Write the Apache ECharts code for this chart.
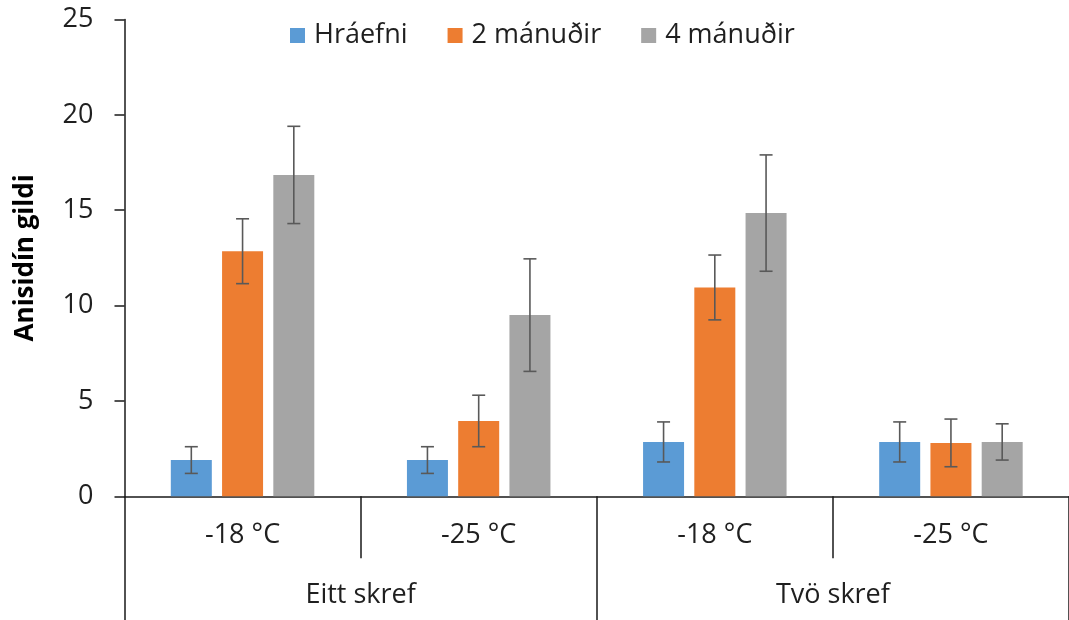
<!DOCTYPE html>
<html><head><meta charset="utf-8">
<script src="https://cdn.jsdelivr.net/npm/echarts@6/dist/echarts.min.js"></script>
<style>html,body{margin:0;padding:0;background:#fff}#c{width:1069px;height:620px}</style>
</head><body><div id="c"></div>
<script>
// ---- data ----
const categories = ['-18 °C', '-25 °C', '-18 °C', '-25 °C'];
const groups = ['Eitt skref', 'Tvö skref'];
const seriesNames = ['Hráefni', '2 mánuðir', '4 mánuðir'];
const hraefni = [1.9, 1.9, 2.85, 2.85];
const hraefniErr = [0.7, 0.7, 1.05, 1.05];
const man2 = [12.85, 3.95, 10.95, 2.8];
const man2Err = [1.7, 1.35, 1.7, 1.25];
const man4 = [16.85, 9.5, 14.85, 2.85];
const man4Err = [2.55, 2.95, 3.05, 0.95];
const yMin = 0, yMax = 25, yStep = 5;

// ---- styles ----
const colors = ['#5B9BD5', '#ED7D31', '#A5A5A5'];
const BAR_W = 41;
const GAP = 0.25;
const FONT = '"Open Sans", sans-serif';
const FS = 27;
const TXT = '#1f1f1f';
const AX = '#1a1a1a';

const values = [hraefni, man2, man4];
const errs = [hraefniErr, man2Err, man4Err];

function errRender(k) {
  return function (params, api) {
    const x = api.value(0), v = api.value(1), e = api.value(2);
    const hi = api.coord([x, v + e]);
    const lo = api.coord([x, v - e]);
    const cx = hi[0] + (k - 1) * BAR_W * (1 + GAP);
    const cap = 6.5;
    const st = { stroke: '#595959', lineWidth: 1.6 };
    return {
      type: 'group',
      children: [
        { type: 'line', shape: { x1: cx, y1: hi[1], x2: cx, y2: lo[1] }, style: st },
        { type: 'line', shape: { x1: cx - cap, y1: hi[1], x2: cx + cap, y2: hi[1] }, style: st },
        { type: 'line', shape: { x1: cx - cap, y1: lo[1], x2: cx + cap, y2: lo[1] }, style: st }
      ]
    };
  };
}

const series = [];
seriesNames.forEach((n, k) => {
  series.push({
    name: n, type: 'bar', xAxisIndex: 0, barWidth: BAR_W, barGap: (GAP * 100) + '%',
    itemStyle: { color: colors[k] }, data: values[k], z: 2
  });
});
seriesNames.forEach((n, k) => {
  series.push({
    name: n + ' err', type: 'custom', xAxisIndex: 0, z: 5,
    renderItem: errRender(k), encode: { x: 0, y: 1 },
    data: values[k].map((v, i) => [i, v, errs[k][i]])
  });
});

const chart = echarts.init(document.getElementById('c'), null, { renderer: 'canvas' });
chart.setOption({
  animation: false,
  textStyle: { fontFamily: FONT },
  grid: { left: 124.5, right: 0, top: 19.5, bottom: 123.7, containLabel: false },
  legend: {
    data: seriesNames, left: 290, top: 22, padding: 0, itemWidth: 15, itemHeight: 15, itemGap: 40,
    icon: 'rect', textStyle: { fontSize: FS, color: TXT, fontFamily: FONT, padding: [0, 0, 0, 4] }
  },
  xAxis: [
    {
      type: 'category', data: categories, position: 'bottom',
      axisLine: { lineStyle: { color: AX, width: 1.5 } },
      axisTick: { show: true, interval: 0, length: 62, lineStyle: { color: AX, width: 1.5 } },
      axisLabel: { interval: 0, fontSize: FS, color: TXT, margin: 26, fontFamily: FONT },
      splitLine: { show: false }
    },
    {
      type: 'category', data: groups, position: 'bottom',
      axisLine: { show: false },
      axisTick: { show: true, interval: 0, length: 124, lineStyle: { color: AX, width: 1.5 } },
      axisLabel: { interval: 0, fontSize: FS, color: TXT, margin: 86, fontFamily: FONT },
      splitLine: { show: false }
    }
  ],
  yAxis: {
    type: 'value', min: yMin, max: yMax, interval: yStep,
    name: 'Anisidín gildi', nameLocation: 'middle', nameGap: 86,
    nameTextStyle: { fontSize: 26, fontWeight: 'bold', color: '#000', fontFamily: FONT },
    axisLine: { show: true, lineStyle: { color: AX, width: 1.5 } },
    axisTick: { show: true, length: 10, lineStyle: { color: AX, width: 1.5 } },
    axisLabel: { fontSize: FS, color: TXT, margin: 31, fontFamily: FONT },
    splitLine: { show: false }
  },
  series: series
});
</script>
</body></html>
